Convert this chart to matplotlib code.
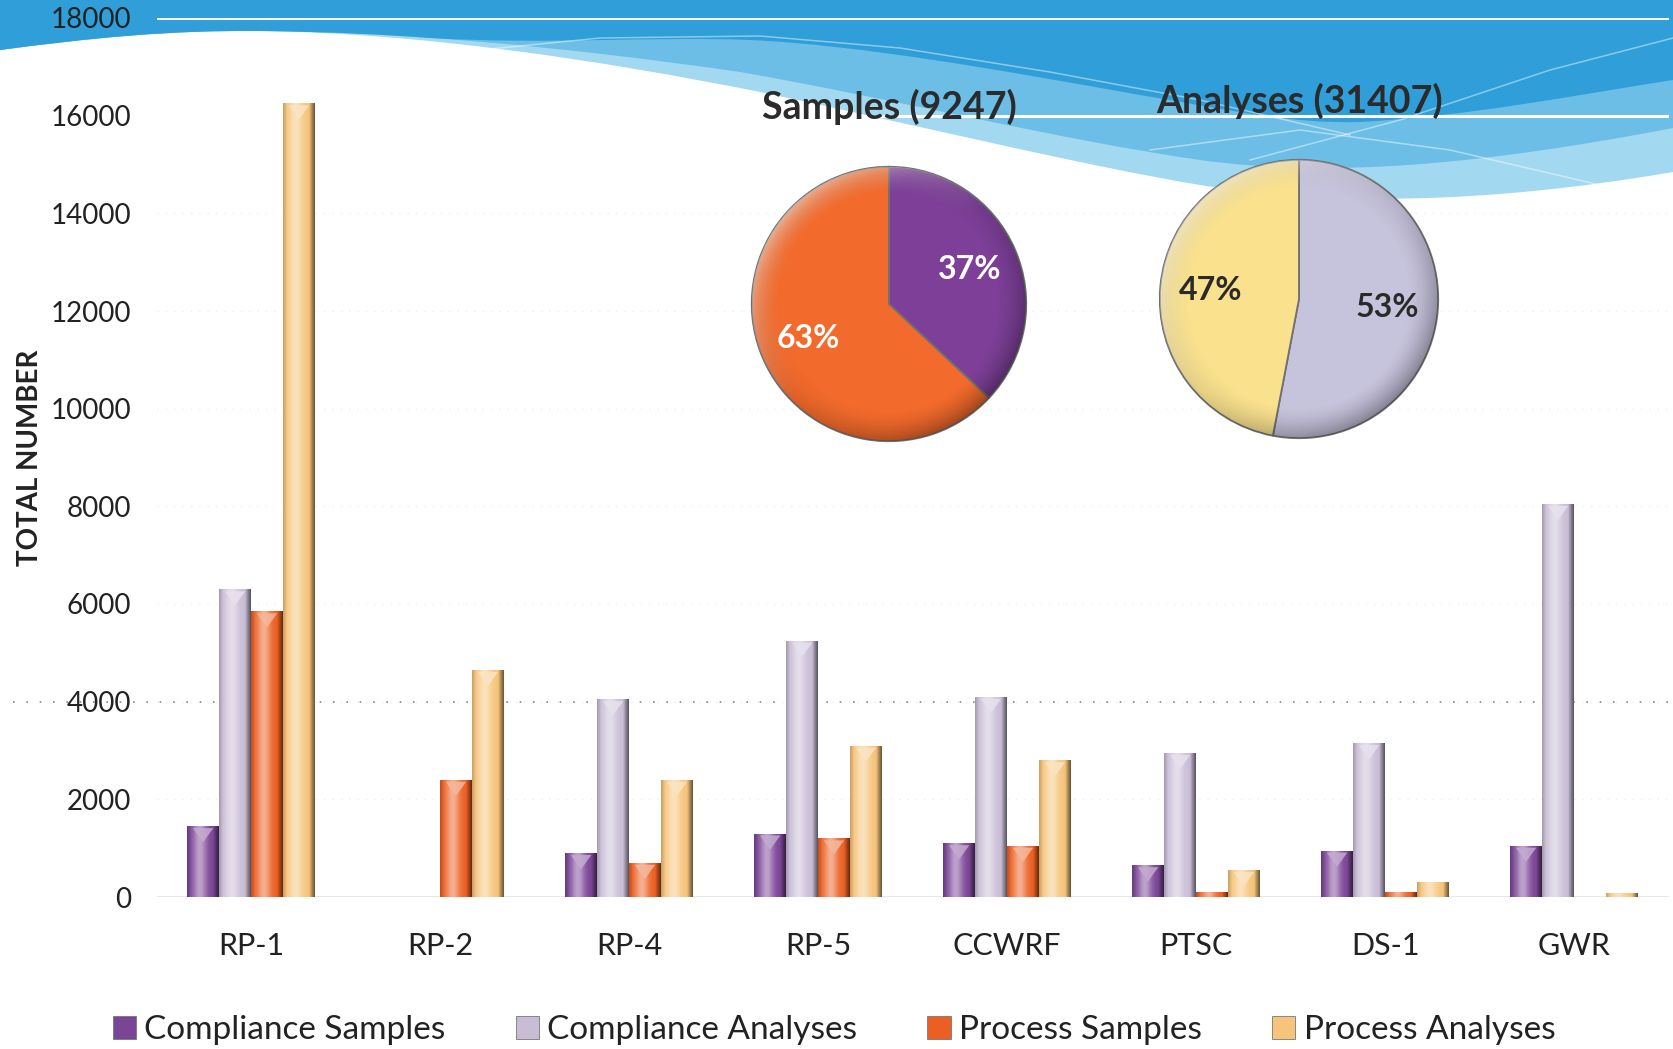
import numpy as np
import matplotlib
matplotlib.use("Agg")
import matplotlib.pyplot as plt
from matplotlib.path import Path
from matplotlib.patches import PathPatch, Polygon, Circle, Patch
from matplotlib.colors import to_rgb

plt.rcParams['font.family'] = ['Lato', 'DejaVu Sans']

# ---- data ----
sites = ["RP-1", "RP-2", "RP-4", "RP-5", "CCWRF", "PTSC", "DS-1", "GWR"]
compliance_samples = [1450, 0, 900, 1300, 1100, 650, 950, 1050]
compliance_analyses = [6300, 0, 4050, 5250, 4100, 2950, 3150, 8050]
process_samples = [5850, 2400, 700, 1200, 1050, 100, 100, 0]
process_analyses = [16250, 4650, 2400, 3100, 2800, 550, 300, 80]

series_names = ["Compliance Samples", "Compliance Analyses",
                "Process Samples", "Process Analyses"]
series_colors = ["#7b4596", "#c9bdd6", "#ec5f22", "#f6c47a"]

samples_total = 9247
analyses_total = 31407
samples_pct = [37, 63]          # compliance, process
analyses_pct = [53, 47]         # compliance, process
samples_colors = ["#7d3f98", "#f26a2c"]
analyses_colors = ["#c6c3dc", "#f9e18e"]

yticks = np.arange(0, 18001, 2000)

W, H = 1673, 1049
fig = plt.figure(figsize=(W / 100, H / 100), dpi=100)

# ---- wavy blue header in pixel coordinates ----
bg = fig.add_axes([0, 0, 1, 1], zorder=0)
bg.set_xlim(0, W)
bg.set_ylim(H, 0)
bg.axis("off")

C4 = Path.CURVE4


def wave_patch(curve, color, **kw):
    verts = [(0, 0), curve[0]]
    codes = [Path.MOVETO, Path.LINETO]
    for seg in curve[1:]:
        verts.append(seg)
        codes.append(C4)
    verts += [(W, 0), (0, 0)]
    codes += [Path.LINETO, Path.CLOSEPOLY]
    return PathPatch(Path(verts, codes), facecolor=color, edgecolor="none", **kw)


lower_edge = [(0, 50),
              (90, 38), (170, 30), (260, 31),
              (420, 33), (600, 60), (760, 92),
              (930, 128), (1080, 165), (1200, 185),
              (1330, 205), (1480, 205), (W, 172)]
pale_edge = [(0, 50),
             (90, 38), (170, 30), (260, 31),
             (400, 32), (560, 46), (740, 72),
             (900, 100), (1060, 140), (1200, 160),
             (1330, 178), (1480, 165), (W, 128)]
upper_edge = [(0, 50),
              (90, 38), (170, 30), (260, 31),
              (340, 32), (390, 35), (430, 38),
              (550, 45), (650, 36), (750, 40),
              (860, 45), (1000, 70), (1140, 95),
              (1230, 110), (1290, 124), (1360, 122),
              (1470, 116), (1570, 96), (W, 80)]

bg.add_patch(wave_patch(lower_edge, "#a3d8f1"))
bg.add_patch(wave_patch(pale_edge, "#6cbee7"))
bg.add_patch(wave_patch(upper_edge, "#2f9ed9"))

# thin light streaks inside the wave
for streak in ([(460, 52), (600, 38), (760, 36), (900, 48), (1050, 72), (1200, 100), (1350, 135)],
               [(1250, 160), (1400, 120), (1550, 70), (W, 38)],
               [(1150, 150), (1300, 130), (1450, 150), (1600, 185)]):
    sx, sy = zip(*streak)
    bg.plot(sx, sy, color="white", lw=1.1, alpha=0.45)

# ---- main bar chart ----
left, right = 156.5, 1668.5
y0_px, y18_px = 897, 18
ax = fig.add_axes([left / W, 1 - y0_px / H, (right - left) / W, (y0_px - y18_px) / H],
                  zorder=2)
ax.patch.set_alpha(0)

for v in yticks[1:]:
    ax.axhline(v, color="white", lw=2.2, zorder=1.2)
    if v <= 14000:
        ax.axhline(v, color="#eeeeee", lw=1, ls=(0, (1, 5)), zorder=1.3)
ax.axhline(4000, xmin=-0.095, xmax=1, color="#8a8a8a", lw=1.2,
           ls=(0, (1, 7)), zorder=1.4, clip_on=False)
ax.axhline(0, color="#e8e8e8", lw=1.5, zorder=1.3)

x = np.arange(len(sites))
bw = 0.169
values = [compliance_samples, compliance_analyses, process_samples, process_analyses]
containers = []
for i, (vals, col) in enumerate(zip(values, series_colors)):
    bars = ax.bar(x + (i - 1.5) * bw, vals, width=bw, color=col,
                  edgecolor="none", zorder=3, label=series_names[i])
    containers.append(bars)

# cylindrical shading across each bar plus a bevel notch at the top
t = np.linspace(0, 1, 40)
light = 0.5 * np.exp(-((t - 0.4) / 0.22) ** 2)
dark = 0.55 * np.clip((t - 0.82) / 0.18, 0, 1) + 0.18 * np.clip((0.12 - t) / 0.12, 0, 1)
for bars, col in zip(containers, series_colors):
    base = np.array(to_rgb(col))
    strip = (base[None, :] * (1 - light[:, None]) + light[:, None]) * (1 - dark[:, None])
    for rect in bars:
        bx, bh, bwid = rect.get_x(), rect.get_height(), rect.get_width()
        if bh <= 0:
            continue
        im = ax.imshow(strip[None, :, :], extent=[bx, bx + bwid, 0, bh],
                       aspect="auto", interpolation="bilinear", zorder=3.1)
        im.set_clip_path(rect)
        if bh > 350:
            cx = bx + bwid / 2
            tip = base * 0.45 + 0.55
            ax.add_patch(Polygon([(cx - 0.32 * bwid, bh - 40), (cx + 0.32 * bwid, bh - 40),
                                  (cx, bh - 330)], closed=True, facecolor=tip,
                                 edgecolor="none", alpha=0.85, zorder=3.2))

ax.set_xlim(-0.5, len(sites) - 0.5)
ax.set_ylim(0, 18000)
ax.set_yticks(yticks)
ax.set_yticklabels([str(v) for v in yticks], fontsize=20, color="#222222")
ax.set_xticks(x)
ax.set_xticklabels(sites, fontsize=22, color="#222222")
ax.tick_params(axis="both", length=0)
ax.tick_params(axis="y", pad=18)
ax.tick_params(axis="x", pad=25)
for s in ax.spines.values():
    s.set_visible(False)

fig.text(30 / W, 1 - 458 / H, "TOTAL NUMBER", rotation=90, ha="center", va="center",
         fontsize=20, fontweight="bold", color="#222222")


# ---- pies ----
def shade_pie(pax):
    g = np.linspace(-1, 1, 300)
    gx, gy = np.meshgrid(g, -g)
    r = np.hypot(gx, gy)
    rim = np.clip((r - 0.78) / 0.22, 0, 1) ** 1.5
    dark_side = np.clip((gx - gy) / 1.414, 0, 1)
    lit_side = np.clip((gy - gx) / 1.414, 0, 1)
    shadow = np.zeros((300, 300, 4))
    shadow[..., 3] = 0.35 * rim * (0.3 + 0.7 * dark_side)
    glow = np.ones((300, 300, 4))
    glow[..., 3] = 0.5 * rim * lit_side
    clip = Circle((0, 0), 1, transform=pax.transData)
    for img in (shadow, glow):
        im = pax.imshow(img, extent=[-1, 1, -1, 1], zorder=3, interpolation="bilinear")
        im.set_clip_path(clip)


def draw_pie(rect, pcts, colors, txt_color, title, title_xy):
    pax = fig.add_axes(rect, zorder=3)
    pax.pie(pcts, colors=colors, startangle=90, counterclock=False,
            autopct=lambda p: f"{p:.0f}%", pctdistance=0.64,
            wedgeprops=dict(edgecolor="#707070", linewidth=1.3),
            textprops=dict(fontsize=23, fontweight="bold", color=txt_color, zorder=5))
    shade_pie(pax)
    pax.set_xlim(-1.02, 1.02)
    pax.set_ylim(-1.02, 1.02)
    pax.set_aspect("equal")
    pax.axis("off")
    fig.text(title_xy[0] / W, 1 - title_xy[1] / H, title, ha="center", va="center",
             fontsize=27, fontweight="bold", color="#2b2b2b", zorder=6)


draw_pie([749 / W, 1 - 444 / H, 280 / W, 280 / H], samples_pct, samples_colors,
         "white", f"Samples ({samples_total})", (889, 107))
draw_pie([1157 / W, 1 - 441 / H, 284 / W, 284 / H], analyses_pct, analyses_colors,
         "#2a2a2a", f"Analyses ({analyses_total})", (1300, 101))

# ---- legend ----
handles = [Patch(facecolor=c, edgecolor="#777777", linewidth=0.6) for c in series_colors]
fig.legend(handles, series_names, loc="center", bbox_to_anchor=(0.4985, 1 - 1030 / H),
           ncol=4, frameon=False, fontsize=24, handlelength=0.7, handleheight=0.7,
           handletextpad=0.25, columnspacing=2.1, labelcolor="#222222")

fig.savefig("out.png", dpi=100)
